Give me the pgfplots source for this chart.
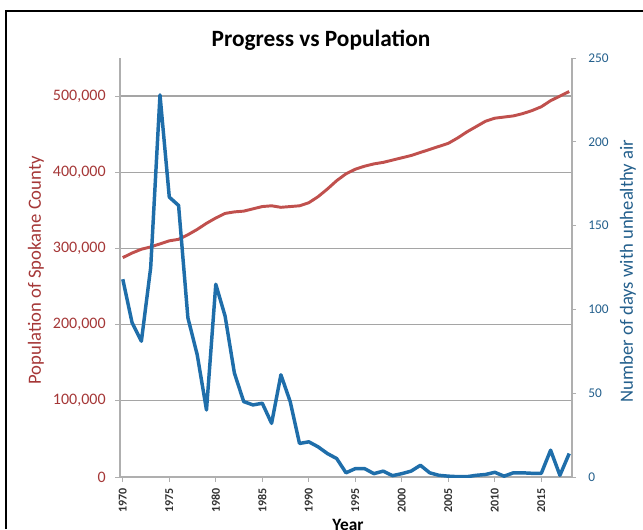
\documentclass[border=0pt]{standalone}
\usepackage{fontspec}
\setmainfont{Carlito}
\usepackage{pgfplots}
\usepackage{pgfplotstable}
\pgfplotsset{compat=1.18}

\definecolor{popred}{RGB}{192,80,77}
\definecolor{poptext}{RGB}{165,55,55}
\definecolor{airblue}{RGB}{31,110,170}
\definecolor{airtext}{RGB}{35,95,140}
\definecolor{gridgray}{RGB}{165,165,165}
\definecolor{axisgray}{RGB}{175,175,175}

% year, county population, days with unhealthy air
\pgfplotstableread{
year pop days
1970 288000 118
1971 294000 92
1972 299000 81
1973 302000 125
1974 306000 228
1975 310000 167
1976 312000 162
1977 318000 95
1978 325000 73
1979 333000 40
1980 340000 115
1981 346000 96
1982 348000 62
1983 349000 45
1984 352000 43
1985 355000 44
1986 356000 32
1987 354000 61
1988 355000 45
1989 356000 20
1990 360000 21
1991 368000 18
1992 378000 14
1993 389000 11
1994 398000 2.5
1995 404000 5
1996 408000 5
1997 411000 2
1998 413000 3.5
1999 416000 0.8
2000 419000 2
2001 422000 3.5
2002 426000 7
2003 430000 2.5
2004 434000 1
2005 438000 0.5
2006 445000 0.2
2007 453000 0.2
2008 460000 1
2009 467000 1.5
2010 471000 2.8
2011 472500 0.5
2012 474000 2.5
2013 477000 2.5
2014 481000 2.2
2015 486000 2.2
2016 494000 16
2017 500000 1
2018 506000 14
}\spokane

\begin{document}
\begin{tikzpicture}
\useasboundingbox (0,0) rectangle (482.25pt,396.75pt);
% outer frame (cut off at right and bottom)
\draw[line width=1.4pt] (4.5pt,0pt) -- (4.5pt,388.5pt) -- (482.25pt,388.5pt);

\begin{axis}[
    at={(90pt,39pt)}, anchor=south west,
    scale only axis, width=339pt, height=314.25pt,
    /pgf/number format/assume math mode=true,
    xmin=1969.7, xmax=2018.3,
    ymin=0, ymax=550000,
    axis x line*=bottom, axis y line*=left,
    axis line style={draw=axisgray, line width=0.8pt, -},
    xtick={1970,1975,...,2015},
    xticklabels={1970,1975,1980,1985,1990,1995,2000,2005,2010,2015},
    ytick={0,100000,...,500000},
    yticklabels={0,{100,000},{200,000},{300,000},{400,000},{500,000}},
    scaled ticks=false,
    ymajorgrids,
    grid style={draw=gridgray, line width=0.9pt},
    tick align=outside, major tick length=3.5pt,
    tick style={draw=axisgray, line width=0.6pt},
    y tick label style={xshift=-3.75pt, font=\fontsize{12}{14}\selectfont, text=poptext},
    x tick label style={yshift=-1.7pt, rotate=90, anchor=east,
        font=\bfseries\fontsize{9}{10}\selectfont, text=black!80},
    title={Progress vs Population},
    every axis title/.style={at={([xshift=-18.75pt,yshift=9pt]axis description cs:0.5,1)},
        anchor=base, font=\bfseries\fontsize{17.5}{20}\selectfont},
    xlabel={Year},
    every axis x label/.style={at={([xshift=1.5pt,yshift=-31.5pt]axis description cs:0.5,0)},
        anchor=north, inner sep=0pt, font=\bfseries\fontsize{13}{15}\selectfont},
    ylabel={Population of Spokane County},
    every axis y label/.style={at={([xshift=-63pt,yshift=-2pt]axis description cs:0,0.5)},
        rotate=90, anchor=center, font=\fontsize{14}{16}\selectfont, text=poptext},
]
\addplot[draw=popred, line width=2.2pt, line join=round] table[x=year, y=pop] {\spokane};
\end{axis}

\begin{axis}[
    at={(90pt,39pt)}, anchor=south west,
    scale only axis, width=339pt, height=314.25pt,
    /pgf/number format/assume math mode=true,
    xmin=1969.7, xmax=2018.3,
    ymin=0, ymax=250,
    axis x line=none, axis y line*=right,
    axis line style={draw=axisgray, line width=0.8pt, -},
    ytick={0,50,...,250},
    scaled ticks=false,
    tick align=outside, major tick length=3pt,
    tick style={draw=axisgray, line width=0.6pt},
    y tick label style={xshift=5.7pt, font=\fontsize{10}{12}\selectfont, text=airtext},
    ylabel={Number of days with unhealthy air},
    every axis y label/.style={at={([xshift=42pt,yshift=-2.5pt]axis description cs:1,0.5)},
        rotate=90, anchor=center, font=\fontsize{14}{16}\selectfont, text=airtext},
]
\addplot[draw=airblue, line width=2.6pt, line join=round] table[x=year, y=days] {\spokane};
\end{axis}
\end{tikzpicture}
\end{document}
